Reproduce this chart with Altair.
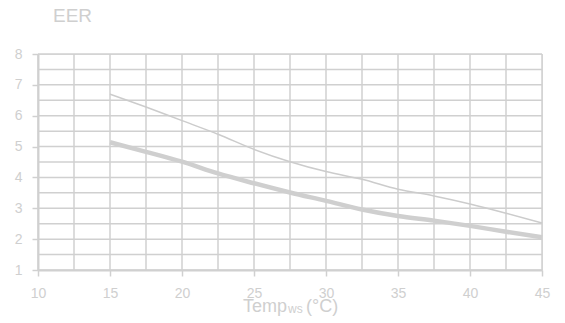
import altair as alt
import pandas as pd

temps = [15, 17.5, 20, 22.5, 25, 27.5, 30, 32.5, 35, 37.5, 40, 42.5, 45]
eer_upper = [6.70, 6.28, 5.84, 5.40, 4.91, 4.51, 4.19, 3.94, 3.62, 3.40, 3.14, 2.84, 2.52]
eer_lower = [5.14, 4.83, 4.51, 4.13, 3.81, 3.51, 3.24, 2.96, 2.75, 2.60, 2.43, 2.24, 2.06]
x_ticks = [10, 15, 20, 25, 30, 35, 40, 45]
y_ticks = [1, 2, 3, 4, 5, 6, 7, 8]

df = pd.DataFrame({"t": temps, "upper": eer_upper, "lower": eer_lower})

FONT = "Liberation Sans"
GRAY = "#d0d0d0"
TXT = "#cfcfcf"

xs = alt.Scale(domain=[10, 45], nice=False, zero=False)
ys = alt.Scale(domain=[1, 8], nice=False, zero=False)

xax = alt.Axis(values=x_ticks, grid=False, domain=True, domainColor=GRAY, domainWidth=2,
               tickColor=GRAY, tickSize=6, tickWidth=1.5, labelColor=TXT, labelFont=FONT,
               labelFontSize=14, labelPadding=10, title=None, labelFlush=False,
               labelOverlap=False)
yax = alt.Axis(values=y_ticks, grid=False, domain=True, domainColor=GRAY, domainWidth=2,
               tickColor=GRAY, tickSize=6, tickWidth=1.5, labelColor=TXT, labelFont=FONT,
               labelFontSize=14, labelPadding=10, title=None, labelOverlap=False,
               labelFlush=False)

grid_x = [10 + 2.5 * i for i in range(15)]
grid_y = [1 + 0.5 * i for i in range(15)]

gx = alt.Chart(pd.DataFrame({"g": grid_x})).mark_rule(color=GRAY, strokeWidth=1.5).encode(
    x=alt.X("g:Q", scale=xs, axis=xax))
gy = alt.Chart(pd.DataFrame({"g": grid_y})).mark_rule(color=GRAY, strokeWidth=1.5).encode(
    y=alt.Y("g:Q", scale=ys, axis=yax))

base = alt.Chart(df)
thick = base.mark_line(color="#cfcfcf", strokeWidth=4.5, interpolate="monotone").encode(
    x=alt.X("t:Q", scale=xs, axis=xax), y=alt.Y("lower:Q", scale=ys, axis=yax))
thin = base.mark_line(color="#cccccc", strokeWidth=1.5, interpolate="monotone").encode(
    x=alt.X("t:Q", scale=xs, axis=xax), y=alt.Y("upper:Q", scale=ys, axis=yax))

title = alt.Chart(pd.DataFrame({"s": ["EER"]})).mark_text(
    font=FONT, fontSize=19, color=TXT, align="left", baseline="alphabetic").encode(
    text="s:N", x=alt.value(15), y=alt.value(-32))

xt1 = alt.Chart(pd.DataFrame({"s": ["Temp"]})).mark_text(
    font=FONT, fontSize=18, color=TXT, align="left", baseline="alphabetic").encode(
    text="s:N", x=alt.value(205), y=alt.value(258))
xt2 = alt.Chart(pd.DataFrame({"s": ["ws"]})).mark_text(
    font=FONT, fontSize=12, color=TXT, align="left", baseline="alphabetic").encode(
    text="s:N", x=alt.value(250), y=alt.value(259))
xt3 = alt.Chart(pd.DataFrame({"s": ["(°C)"]})).mark_text(
    font=FONT, fontSize=18, color=TXT, align="left", baseline="alphabetic").encode(
    text="s:N", x=alt.value(268), y=alt.value(258))

chart = alt.layer(gx, gy, thin, thick, title, xt1, xt2, xt3).properties(
    width=504, height=216, padding={"left": 38, "top": 54, "right": 23, "bottom": 53},
    autosize=alt.AutoSizeParams(type="none")
).configure_view(stroke=None).configure(background="white")

chart.save("out.html", embed_options={"renderer": "svg", "actions": False})
